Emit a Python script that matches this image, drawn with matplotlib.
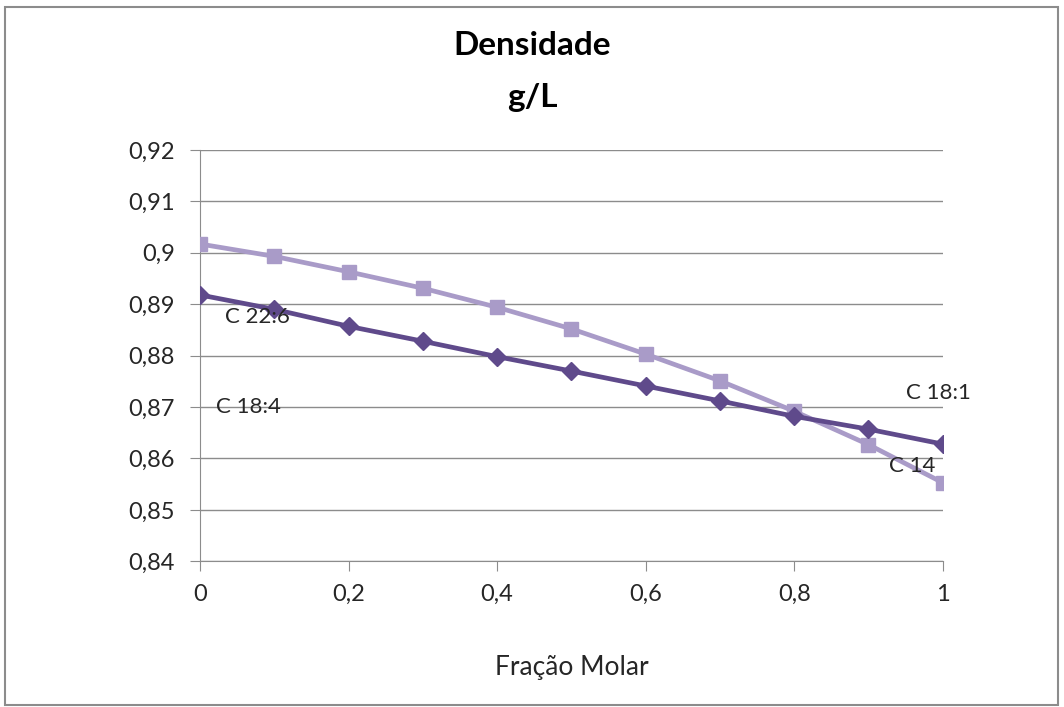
import matplotlib.pyplot as plt
from matplotlib.patches import Rectangle
from matplotlib.ticker import FuncFormatter

plt.rcParams['font.family'] = ['Lato', 'DejaVu Sans']

fracao = [0, 0.1, 0.2, 0.3, 0.4, 0.5, 0.6, 0.7, 0.8, 0.9, 1.0]
# C 22:6 / C 18:1 series (dark diamonds)
dens_losango = [0.8918, 0.8890, 0.8857, 0.8828, 0.8798, 0.8770, 0.8741, 0.8712, 0.8682, 0.8657, 0.8628]
# C 18:4 / C 14 series (light squares)
dens_quadrado = [0.9017, 0.8993, 0.8963, 0.8931, 0.8894, 0.8852, 0.8803, 0.8751, 0.8692, 0.8627, 0.8553]

rotulos = ["C 22:6", "C 18:4", "C 18:1", "C 14"]
rotulos_pos = [(0.033, 0.8875), (0.021, 0.8700), (0.950, 0.8728), (0.928, 0.8586)]

cor_escura = '#5F4A8B'
cor_clara = '#A99BC8'
cor_texto = '#262626'

fig = plt.figure(figsize=(10.64, 7.07), dpi=100)
ax = fig.add_axes([0.188, 0.206, 0.698, 0.582])

ax.plot(fracao, dens_quadrado, color=cor_clara, lw=3.4, marker='s', ms=10, zorder=3)
ax.plot(fracao, dens_losango, color=cor_escura, lw=3.4, marker='D', ms=9, zorder=4)

for txt, (x, y) in zip(rotulos, rotulos_pos):
    ax.text(x, y, txt, fontsize=16, color=cor_texto, va='center', zorder=5)

ax.set_xlim(0, 1)
ax.set_ylim(0.84, 0.92)
ax.set_xticks([0, 0.2, 0.4, 0.6, 0.8, 1.0])
ax.set_yticks([0.84 + 0.01 * i for i in range(9)])

fmt = FuncFormatter(lambda v, p: ('%g' % round(v, 4)).replace('.', ','))
ax.xaxis.set_major_formatter(fmt)
ax.yaxis.set_major_formatter(fmt)

ax.grid(axis='y', color='#8c8c8c', lw=1)
ax.set_axisbelow(True)
for s in ['top', 'right']:
    ax.spines[s].set_visible(False)
for s in ['left', 'bottom']:
    ax.spines[s].set_color('#8c8c8c')
ax.tick_params(colors='#8c8c8c', labelcolor=cor_texto, labelsize=17, length=7, direction='out')
ax.tick_params(axis='x', pad=9)
ax.tick_params(axis='y', pad=11)

ax.set_xlabel('Fração Molar', fontsize=19, color=cor_texto, labelpad=36)
fig.text(0.5, 0.935, 'Densidade', ha='center', va='center', fontsize=24, fontweight='bold')
fig.text(0.5, 0.862, 'g/L', ha='center', va='center', fontsize=24, fontweight='bold')

fig.patches.append(Rectangle((0.005, 0.003), 0.989, 0.987, transform=fig.transFigure,
                             fill=False, edgecolor='#8c8c8c', lw=1.5))

fig.savefig('out.png', dpi=100)
